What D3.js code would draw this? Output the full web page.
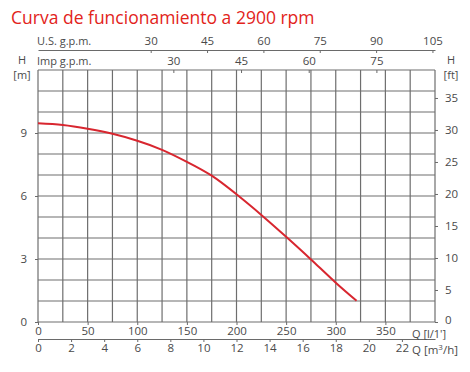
<!DOCTYPE html>
<html>
<head>
<meta charset="utf-8">
<script src="https://cdn.jsdelivr.net/npm/d3@7"></script>
<style>
    body { margin: 0; background: #fff; }
    svg text { font-family: "Open Sans", "Noto Sans", sans-serif; fill: #4a4a4a; }
    .domain, .tick line { stroke: #6a6a6a; }
</style>
</head>
<body>
<div id="divGrafica"></div>
<script>

// datos (caudal l/min, altura m)
var caudal = [0, 25, 50, 75, 100, 125, 150, 175, 200, 225, 250, 275, 300, 321];
var altura = [9.46, 9.38, 9.2, 8.96, 8.63, 8.2, 7.63, 6.97, 6.08, 5.1, 4.06, 2.98, 1.87, 1.01];

var ticksLmin = [0, 50, 100, 150, 200, 250, 300, 350];
var ticksM3h = [0, 2, 4, 6, 8, 10, 12, 14, 16, 18, 20, 22];
var ticksUsGpm = [30, 45, 60, 75, 90, 105];
var ticksImpGpm = [30, 45, 60, 75];
var ticksMetros = [0, 3, 6, 9];
var ticksPies = [0, 5, 10, 15, 20, 25, 30, 35];

var titulo = "Curva de funcionamiento a 2900 rpm";

InicializaGrafica();


function InicializaGrafica() {
    var svg = d3.select("#divGrafica").append("svg")
        .attr("width", 470)
        .attr("height", 372);

    var x = d3.scaleLinear().domain([0, 400]).range([38, 435]);
    var y = d3.scaleLinear().domain([0, 12]).range([322, 70]);

    svg.append("text")
        .attr("x", 11)
        .attr("y", 24)
        .style("font-size", "17.5px")
        .style("fill", "#e2231a")
        .text(titulo);

    // rejilla
    var rejilla = svg.append("g");
    rejilla.selectAll("line.v")
        .data(d3.range(0, 401, 25))
        .enter().append("line")
        .attr("x1", function (d) { return x(d); })
        .attr("x2", function (d) { return x(d); })
        .attr("y1", y(0))
        .attr("y2", y(12))
        .attr("stroke", "#6e6e6e")
        .attr("stroke-width", 1.2);
    rejilla.selectAll("line.h")
        .data(d3.range(0, 13, 1))
        .enter().append("line")
        .attr("x1", x(0))
        .attr("x2", x(400))
        .attr("y1", function (d) { return y(d); })
        .attr("y2", function (d) { return y(d); })
        .attr("stroke", "#6e6e6e")
        .attr("stroke-width", 1.2);

    // eje inferior l/min
    var ejeLmin = d3.axisBottom(x).tickValues(ticksLmin).tickSize(3).tickPadding(2);
    var gL = svg.append("g").attr("transform", "translate(0," + y(0) + ")").call(ejeLmin);
    gL.select(".domain").remove();

    // eje m3/h
    var xm3 = d3.scaleLinear().domain([0, 400 * 60 / 1000]).range([38, 435]);
    var ejeM3 = d3.axisBottom(xm3).tickValues(ticksM3h).tickSize(3).tickPadding(2).tickSizeOuter(0);
    svg.append("g").attr("transform", "translate(0,339)").call(ejeM3);

    // ejes superiores gpm
    var xus = d3.scaleLinear().domain([0, 400 / 3.785]).range([38, 435]);
    var ejeUs = d3.axisTop(xus).tickValues(ticksUsGpm).tickSize(-3).tickPadding(5).tickSizeOuter(0);
    svg.append("g").attr("transform", "translate(0,50)").call(ejeUs);

    var ximp = d3.scaleLinear().domain([0, 400 / 4.546]).range([38, 435]);
    var ejeImp = d3.axisTop(ximp).tickValues(ticksImpGpm).tickSize(-3).tickPadding(5).tickSizeOuter(0);
    var gI = svg.append("g").attr("transform", "translate(0," + y(12) + ")").call(ejeImp);
    gI.select(".domain").remove();

    // eje izquierdo metros
    var ejeM = d3.axisLeft(y).tickValues(ticksMetros).tickSize(3).tickPadding(8);
    var gM = svg.append("g").attr("transform", "translate(" + x(0) + ",0)").call(ejeM);
    gM.select(".domain").remove();

    // eje derecho pies
    var yft = d3.scaleLinear().domain([0, 12 / 0.3048]).range([322, 70]);
    var ejeFt = d3.axisRight(yft).tickValues(ticksPies).tickSize(3).tickPadding(7);
    var gF = svg.append("g").attr("transform", "translate(" + x(400) + ",0)").call(ejeFt);
    gF.select(".domain").remove();
    gF.selectAll(".tick text").attr("dy", function (d) { return d == 0 ? "0.1em" : "0.32em"; });

    svg.selectAll(".tick text").style("font-size", "11.5px");

    // curva
    var puntos = caudal.map(function (q, i) { return [q, altura[i]]; });
    var linea = d3.line()
        .x(function (d) { return x(d[0]); })
        .y(function (d) { return y(d[1]); })
        .curve(d3.curveNatural);
    svg.append("path")
        .datum(puntos)
        .attr("d", linea)
        .attr("fill", "none")
        .attr("stroke", "#d8262f")
        .attr("stroke-width", 2);

    // rotulos
    var rot = [
        { t: "U.S.  g.p.m.", x: 37, y: 45, a: "start" },
        { t: "Imp  g.p.m.", x: 37, y: 65, a: "start" },
        { t: "H", x: 22, y: 64, a: "middle" },
        { t: "[m]", x: 22, y: 79, a: "middle" },
        { t: "H", x: 451, y: 64, a: "middle" },
        { t: "[ft]", x: 451, y: 79, a: "middle" },
        { t: "Q [l/1']", x: 412, y: 338, a: "start" }
    ];
    svg.selectAll("text.rot")
        .data(rot)
        .enter().append("text")
        .attr("class", "rot")
        .attr("x", function (d) { return d.x; })
        .attr("y", function (d) { return d.y; })
        .attr("text-anchor", function (d) { return d.a; })
        .style("font-size", "11px")
        .text(function (d) { return d.t; });

    var qm3 = svg.append("text")
        .attr("x", 412)
        .attr("y", 354)
        .style("font-size", "11.5px")
        .text("Q [m");
    qm3.append("tspan").attr("dy", -4).style("font-size", "8px").text("3");
    qm3.append("tspan").attr("dy", 4).text("/h]");
}

</script>
</body>
</html>
